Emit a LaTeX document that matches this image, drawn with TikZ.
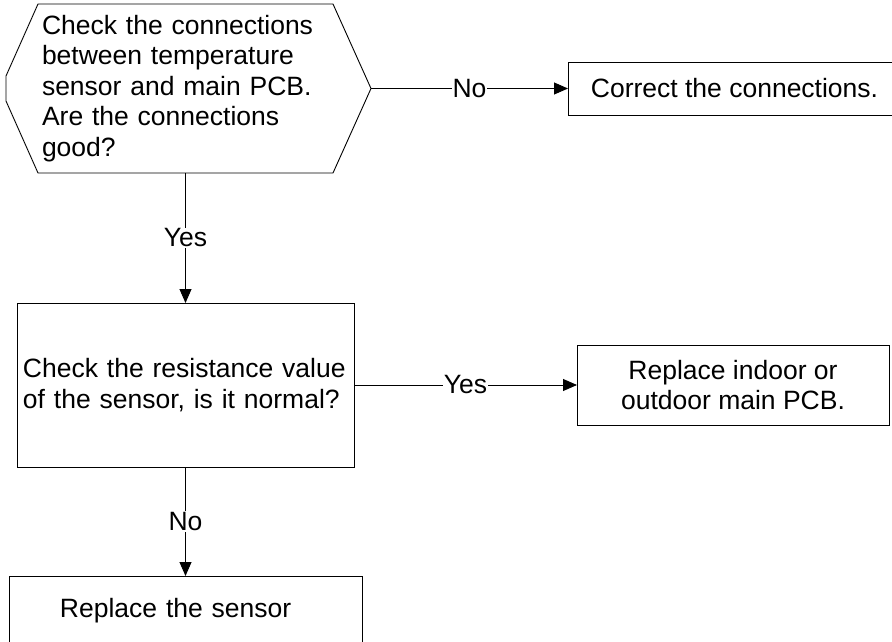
\documentclass[tikz,border=0pt]{standalone}
\usepackage{fontspec}
\setmainfont{Liberation Sans}
\usepackage{tikz}
\usetikzlibrary{arrows.meta,calc}

\begin{document}
\begin{tikzpicture}[x=1pt, y=1pt,
    every node/.style={font=\fontsize{26.5}{30.5}\selectfont, outer sep=0pt},
    stepbox/.style={draw, line width=0.9pt, inner xsep=6pt},
    hexbox/.style={inner xsep=4pt, minimum width=295pt, minimum height=169pt, text width=287pt, align=left},
    flow/.style={line width=0.9pt, -{Triangle[length=14pt, width=12pt]}},
    answer/.style={fill=white, inner sep=1pt}]
    %%Background
    \useasboundingbox (0,0) rectangle (892,-642);
    \clip (0,0) rectangle (892,-642);
    %%
    \node[hexbox] (conn) at (185.5,-88.5) {Check the connections\\ between temperature\\ sensor and main PCB.\\ Are the connections\\ good?};
    \coordinate (connE) at ($(conn.east)+(38,0)$);
    \draw[line width=0.9pt] (conn.north west) -- (conn.north east) -- (connE) -- (conn.south east)
        -- (conn.south west) -- ++(-32,72) -- ++(0,25) -- cycle;

    \node[stepbox, minimum width=333pt, minimum height=53pt] (fix) at (734.5,-88.5) {Correct the connections.};

    \node[stepbox, minimum width=337pt, minimum height=164pt, text width=325pt, align=left] (res) at (185.5,-385)
        {Check the resistance value\\ of the sensor, is it normal?};

    \node[stepbox, minimum width=312pt, minimum height=80pt, align=center] (pcb) at (733,-385)
        {Replace indoor or\\ outdoor main PCB.};

    \node[stepbox, anchor=north, minimum width=353pt, text width=341pt, align=left,
        inner ysep=22pt, text height=19pt, text depth=40pt] (sensor) at (185.5,-576)
        {\hspace*{45pt}Replace the sensor};

    \draw[flow] (connE) -- node[answer]{No} (fix.west);
    \draw[flow] (conn.south) -- node[answer]{Yes} (res.north);
    \draw[flow] (res.east) -- node[answer]{Yes} (pcb.west);
    \draw[flow] (res.south) -- node[answer]{No} (sensor.north);
\end{tikzpicture}
\end{document}
